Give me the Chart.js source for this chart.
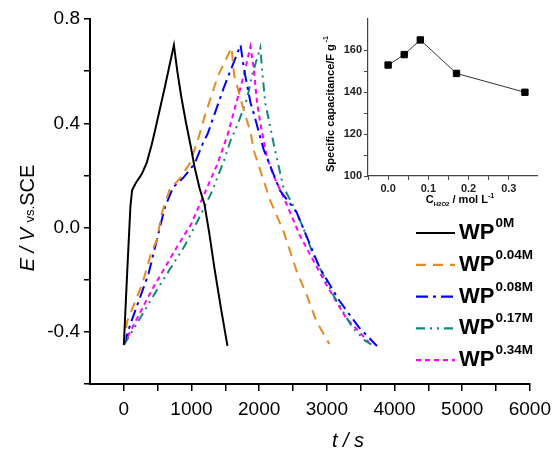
<!DOCTYPE html>
<html>
<head>
<meta charset="utf-8">
<script src="https://cdn.jsdelivr.net/npm/chart.js@4.4.1/dist/chart.umd.min.js"></script>
<style>
  body { margin: 0; background: #fff; }
  #wrap { position: relative; width: 558px; height: 453px; }
  #main { position: absolute; left: 0; top: 0; }
  #inset { position: absolute; left: 300px; top: 0; }
</style>
</head>
<body>
<div id="wrap">
  <canvas id="main" width="558" height="453"></canvas>
  <canvas id="inset" width="258" height="215"></canvas>
</div>
<script>
// charge/discharge curves, t in s and E in V
const t0M   = [0, 48, 97, 121, 170, 267, 340, 413, 462, 607, 740, 790, 850, 920, 990, 1045, 1120, 1191, 1264, 1337, 1433, 1531];
const e0M   = [-0.45, -0.18, 0.08, 0.142, 0.168, 0.206, 0.25, 0.32, 0.373, 0.54, 0.70, 0.60, 0.50, 0.40, 0.31, 0.232, 0.15, 0.09, -0.024, -0.153, -0.306, -0.454];

const t004M = [0, 48, 267, 413, 486, 559, 680, 826, 972, 1093, 1191, 1385, 1592, 1630, 1750, 1871, 1920, 2162, 2356, 2551, 2697, 2843, 3037];
const e004M = [-0.45, -0.36, -0.22, -0.09, -0.05, 0.053, 0.149, 0.187, 0.245, 0.335, 0.424, 0.578, 0.69, 0.585, 0.47, 0.367, 0.296, 0.104, -0.012, -0.165, -0.255, -0.358, -0.447];

const t008M = [0, 97, 364, 607, 729, 875, 1045, 1166, 1239, 1482, 1725, 1774, 1871, 1920, 2066, 2308, 2551, 2891, 3183, 3474, 3741];
const e008M = [-0.45, -0.37, -0.178, 0.078, 0.155, 0.19, 0.245, 0.322, 0.36, 0.54, 0.70, 0.61, 0.48, 0.437, 0.30, 0.142, 0.06, -0.153, -0.28, -0.383, -0.454];

const t017M = [0, 73, 510, 899, 1093, 1288, 1482, 1579, 1676, 1822, 1895, 2017, 2041, 2089, 2163, 2235, 2357, 2502, 2649, 2794, 3086, 3377, 3571, 3669];
const e017M = [-0.45, -0.42, -0.23, -0.07, 0.027, 0.13, 0.258, 0.335, 0.392, 0.495, 0.585, 0.69, 0.61, 0.48, 0.386, 0.296, 0.155, 0.085, 0.001, -0.101, -0.255, -0.383, -0.435, -0.45];

const t034M = [0, 73, 413, 753, 996, 1191, 1385, 1531, 1652, 1774, 1871, 1920, 1968, 2017, 2114, 2211, 2405, 2600, 2745, 2988, 3280, 3620];
const e034M = [-0.45, -0.41, -0.24, -0.088, 0.014, 0.13, 0.245, 0.354, 0.469, 0.585, 0.695, 0.61, 0.48, 0.40, 0.27, 0.2, 0.09, -0.03, -0.10, -0.217, -0.345, -0.44];

const seriesNames = ['0M', '0.04M', '0.08M', '0.17M', '0.34M'];

// inset: specific capacitance vs H2O2 concentration
const capConc = [0, 0.04, 0.08, 0.17, 0.34];
const capValue = [153, 158, 165, 149, 140];

const FONT = 'Liberation Sans, Arial, sans-serif';

function pts(t, e) {
    return t.map((x, i) => ({ x: x, y: e[i] }));
}

const styles = [
    { color: '#000000', dash: [] },
    { color: '#E8891E', dash: [10, 7] },
    { color: '#0000FF', dash: [12, 5, 3, 5] },
    { color: '#14877D', dash: [9, 5, 2, 5, 2, 5] },
    { color: '#FF00FF', dash: [5, 4] }
];
const allT = [t0M, t004M, t008M, t017M, t034M];
const allE = [e0M, e004M, e008M, e017M, e034M];

const datasets = seriesNames.map((name, i) => ({
    label: 'WP' + name,
    data: pts(allT[i], allE[i]),
    borderColor: styles[i].color,
    borderDash: styles[i].dash,
    borderWidth: 2,
    pointRadius: 0,
    fill: false,
    tension: 0
}));

// titles and legend drawn by hand because of the sub/superscripts
const mainText = {
    id: 'mainText',
    afterDraw(chart) {
        const ctx = chart.ctx;
        ctx.save();
        ctx.fillStyle = '#000';

        // x title
        ctx.font = 'italic 20px ' + FONT;
        ctx.textAlign = 'center';
        ctx.textBaseline = 'alphabetic';
        ctx.fillText('t / s', 348, 447);

        // y title
        ctx.translate(34, 218);
        ctx.rotate(-Math.PI / 2);
        ctx.textAlign = 'left';
        const parts = [
            { s: 'E / V ', f: 'italic 20px ' + FONT },
            { s: 'vs.', f: '13px ' + FONT },
            { s: 'SCE', f: '20px ' + FONT }
        ];
        let w = 0;
        parts.forEach(p => { ctx.font = p.f; w += ctx.measureText(p.s).width; });
        let x = -w / 2;
        parts.forEach(p => { ctx.font = p.f; ctx.fillText(p.s, x, 0); x += ctx.measureText(p.s).width; });
        ctx.restore();

        // legend
        ctx.save();
        chart.data.datasets.forEach((ds, i) => {
            const y = 233 + i * 31.8;
            ctx.strokeStyle = ds.borderColor;
            ctx.lineWidth = 2.2;
            ctx.setLineDash(ds.borderDash);
            ctx.beginPath();
            ctx.moveTo(416, y);
            ctx.lineTo(455, y);
            ctx.stroke();
            ctx.setLineDash([]);
            ctx.fillStyle = '#000';
            ctx.textAlign = 'left';
            ctx.font = 'bold 22px ' + FONT;
            ctx.fillText('WP', 459, y + 6);
            const ww = ctx.measureText('WP').width;
            ctx.font = 'bold 13.5px ' + FONT;
            ctx.fillText(seriesNames[i], 459 + ww + 1, y - 6);
        });
        ctx.restore();
    }
};

new Chart(document.getElementById('main').getContext('2d'), {
    type: 'line',
    data: { datasets: datasets },
    options: {
        responsive: false,
        animation: false,
        layout: { padding: { top: 19, right: 21, left: 0, bottom: 0 } },
        plugins: { legend: { display: false }, tooltip: { enabled: false } },
        scales: {
            x: {
                type: 'linear',
                min: -500,
                max: 6000,
                afterFit(s) { s.height = 69; },
                afterBuildTicks(s) { s.ticks = s.ticks.filter(t => t.value >= 0); },
                ticks: {
                    stepSize: 500,
                    autoSkip: false,
                    maxRotation: 0,
                    color: '#000',
                    padding: 7,
                    font: { family: FONT, size: 19 },
                    callback: v => (v >= 0 && v % 1000 === 0) ? String(v) : ''
                },
                grid: { drawOnChartArea: false, color: '#000', tickLength: 7, lineWidth: 1.5 },
                border: { color: '#000', width: 2 }
            },
            y: {
                min: -0.6,
                max: 0.8,
                afterFit(s) { s.width = 90; },
                ticks: {
                    stepSize: 0.2,
                    autoSkip: false,
                    color: '#000',
                    padding: 4,
                    font: { family: FONT, size: 19 },
                    callback: v => {
                        const r = Math.round(v * 10);
                        return (r % 4 === 0) ? (r / 10).toFixed(1) : '';
                    }
                },
                grid: { drawOnChartArea: false, color: '#000', tickLength: 6, lineWidth: 1.5 },
                border: { color: '#000', width: 2 }
            }
        }
    },
    plugins: [mainText]
});

const insetText = {
    id: 'insetText',
    afterDraw(chart) {
        const ctx = chart.ctx;
        ctx.save();
        ctx.fillStyle = '#000';
        ctx.textBaseline = 'alphabetic';

        // x title: C_H2O2 / mol L^-1
        const xp = [
            { s: 'C', f: 'bold 11px ' + FONT, dy: 0 },
            { s: 'H2O2', f: 'bold 6px ' + FONT, dy: 3 },
            { s: ' / mol L', f: 'bold 11px ' + FONT, dy: 0 },
            { s: '-1', f: 'bold 7px ' + FONT, dy: -5 }
        ];
        let w = 0;
        xp.forEach(p => { ctx.font = p.f; w += ctx.measureText(p.s).width; });
        let x = 160 - w / 2;
        ctx.textAlign = 'left';
        xp.forEach(p => { ctx.font = p.f; ctx.fillText(p.s, x, 203 + p.dy); x += ctx.measureText(p.s).width; });

        // y title
        ctx.translate(34, 104);
        ctx.rotate(-Math.PI / 2);
        const yp = [
            { s: 'Specific capacitance/F g', f: 'bold 11px ' + FONT, dy: 0 },
            { s: ' -1', f: 'bold 7px ' + FONT, dy: -6 }
        ];
        w = 0;
        yp.forEach(p => { ctx.font = p.f; w += ctx.measureText(p.s).width; });
        x = -w / 2;
        yp.forEach(p => { ctx.font = p.f; ctx.fillText(p.s, x, p.dy); x += ctx.measureText(p.s).width; });
        ctx.restore();
    }
};

new Chart(document.getElementById('inset').getContext('2d'), {
    type: 'line',
    data: {
        datasets: [{
            data: pts(capConc, capValue),
            borderColor: '#333',
            borderWidth: 1,
            pointStyle: 'rect',
            pointRadius: 4.5,
            pointBackgroundColor: '#000',
            pointBorderColor: '#000',
            tension: 0
        }]
    },
    options: {
        responsive: false,
        animation: false,
        layout: { padding: { top: 19, right: 21, left: 0, bottom: 0 } },
        plugins: { legend: { display: false }, tooltip: { enabled: false } },
        scales: {
            x: {
                type: 'linear',
                min: -0.05,
                max: 0.37,
                afterFit(s) { s.height = 39; },
                afterBuildTicks(s) { s.ticks = s.ticks.filter(t => Math.abs(t.value * 20 - Math.round(t.value * 20)) < 1e-6); },
                ticks: {
                    stepSize: 0.05,
                    autoSkip: false,
                    maxRotation: 0,
                    color: '#222',
                    padding: 2,
                    font: { family: FONT, size: 11, weight: 'bold' },
                    callback: v => {
                        const r = Math.round(v * 100);
                        return (r >= 0 && r % 10 === 0) ? (r / 100).toFixed(1) : '';
                    }
                },
                grid: { drawOnChartArea: false, color: '#444', tickLength: 4, lineWidth: 1 },
                border: { color: '#444', width: 1.2 }
            },
            y: {
                min: 100,
                max: 175,
                afterFit(s) { s.width = 68; },
                afterBuildTicks(s) { s.ticks = s.ticks.filter(t => t.value % 10 === 0); },
                ticks: {
                    stepSize: 10,
                    autoSkip: false,
                    color: '#222',
                    padding: 2,
                    font: { family: FONT, size: 11, weight: 'bold' },
                    callback: v => (v % 20 === 0) ? String(v) : ''
                },
                grid: { drawOnChartArea: false, color: '#444', tickLength: 4, lineWidth: 1 },
                border: { color: '#444', width: 1.2 }
            }
        }
    },
    plugins: [insetText]
});
</script>
</body>
</html>
